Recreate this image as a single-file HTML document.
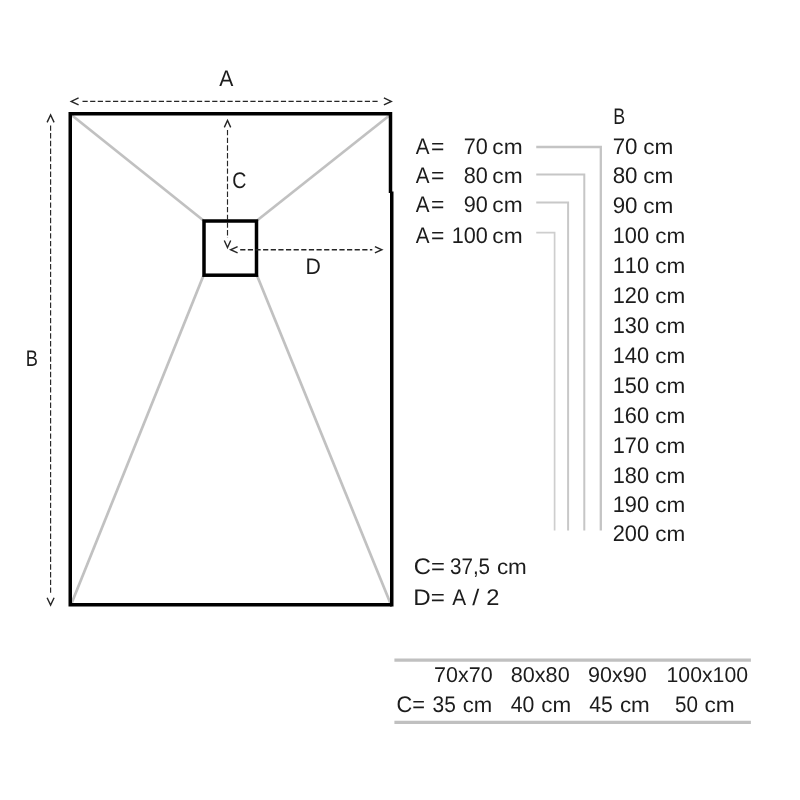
<!DOCTYPE html>
<html lang="es">
<head>
<meta charset="utf-8">
<title>Plato de ducha - medidas</title>
<style>
html,body{margin:0;padding:0;background:#fff;}
body{width:800px;height:800px;overflow:hidden;}
svg{display:block;will-change:transform;}
svg text{font-family:"Liberation Sans",sans-serif;white-space:pre;font-kerning:none;fill:#1c1c1c;text-rendering:geometricPrecision;}
</style>
</head>
<body>
<svg width="800" height="800" viewBox="0 0 800 800">
<rect width="800" height="800" fill="#ffffff"/>
<g id="art">
<g id="diagonals">
<line x1="71.5" y1="115" x2="203.5" y2="220.5" stroke="#c1c1c1" stroke-width="2.7"/>
<line x1="390" y1="115" x2="257" y2="220.5" stroke="#c1c1c1" stroke-width="2.7"/>
<line x1="71.5" y1="603.5" x2="203.5" y2="275.5" stroke="#c1c1c1" stroke-width="2.7"/>
<line x1="390.5" y1="603.5" x2="257" y2="275.5" stroke="#c1c1c1" stroke-width="2.7"/>
</g>
<g id="outline">
<path d="M390.5,113.75 H70.25 V604.75 H391.75" fill="none" stroke="#000" stroke-width="3.5" stroke-linejoin="miter" stroke-linecap="butt"/>
<path d="M390.5,112 V193" fill="none" stroke="#000" stroke-width="3.5"/>
<path d="M391.75,191.5 V606.5" fill="none" stroke="#000" stroke-width="3.5"/>
<rect x="204" y="221" width="52.5" height="54.2" fill="none" stroke="#000" stroke-width="3.5"/>
</g>
<g id="arrows">
<line x1="82.5" y1="101.4" x2="380.0" y2="101.4" stroke="#262626" stroke-width="1.3" stroke-dasharray="5.2 2.43"/>
<path d="M78.6,97.9 L71.2,101.4 L78.6,104.9" fill="none" stroke="#262626" stroke-width="1.4" stroke-linejoin="miter"/>
<path d="M383.9,97.9 L391.3,101.4 L383.9,104.9" fill="none" stroke="#262626" stroke-width="1.4" stroke-linejoin="miter"/>
<line x1="50.6" y1="125.4" x2="50.6" y2="594.7" stroke="#262626" stroke-width="1.15" stroke-dasharray="5.4 2.3"/>
<path d="M47.1,122.4 L50.6,115.0 L54.1,122.4" fill="none" stroke="#262626" stroke-width="1.4" stroke-linejoin="miter"/>
<path d="M47.1,597.7 L50.6,605.1 L54.1,597.7" fill="none" stroke="#262626" stroke-width="1.4" stroke-linejoin="miter"/>
<line x1="227.5" y1="129.95" x2="227.5" y2="237.9" stroke="#262626" stroke-width="1.15" stroke-dasharray="5.4 2.3"/>
<path d="M224.3,127.35 L227.5,120.35 L230.7,127.35" fill="none" stroke="#262626" stroke-width="1.4" stroke-linejoin="miter"/>
<path d="M224.3,240.5 L227.5,247.5 L230.7,240.5" fill="none" stroke="#262626" stroke-width="1.4" stroke-linejoin="miter"/>
<line x1="240.2" y1="249.75" x2="372.3" y2="249.75" stroke="#262626" stroke-width="1.3" stroke-dasharray="5.2 2.43"/>
<path d="M237.6,246.55 L230.6,249.75 L237.6,252.95" fill="none" stroke="#262626" stroke-width="1.4" stroke-linejoin="miter"/>
<path d="M374.9,246.55 L381.9,249.75 L374.9,252.95" fill="none" stroke="#262626" stroke-width="1.4" stroke-linejoin="miter"/>
</g>
<g id="connectors">
<path d="M536.25,147.0 H600.8 V530.6" fill="none" stroke="#c4c4c4" stroke-width="2.3" stroke-linejoin="miter"/>
<path d="M536.25,174.6 H584.3 V530.6" fill="none" stroke="#c6c6c6" stroke-width="2.0" stroke-linejoin="miter"/>
<path d="M536.25,202.4 H568.1 V530.6" fill="none" stroke="#c8c8c8" stroke-width="2.0" stroke-linejoin="miter"/>
<path d="M536.25,232.6 H554.6 V530.6" fill="none" stroke="#cecece" stroke-width="1.7" stroke-linejoin="miter"/>
</g>
<g id="table-lines">
<line x1="394.4" y1="660.1" x2="750.9" y2="660.1" stroke="#c0c0c0" stroke-width="3.2"/>
<line x1="394.4" y1="722.4" x2="750.9" y2="722.4" stroke="#c0c0c0" stroke-width="3.2"/>
</g>
<g id="labels">
<text y="85.70" font-size="22.6"><tspan x="219.20" font-size="22.6" textLength="14.09" lengthAdjust="spacingAndGlyphs">A</tspan></text>
<text y="365.60" font-size="22.6"><tspan x="25.66" font-size="22.6" textLength="12.16" lengthAdjust="spacingAndGlyphs">B</tspan></text>
<text y="187.60" font-size="22.6"><tspan x="232.35" font-size="22.6" textLength="14.15" lengthAdjust="spacingAndGlyphs">C</tspan></text>
<text y="274.20" font-size="22.6"><tspan x="305.41" font-size="22.6" textLength="15.35" lengthAdjust="spacingAndGlyphs">D</tspan></text>
<text y="153.85" font-size="22.6"><tspan x="415.80" font-size="22.6" textLength="13.74" lengthAdjust="spacingAndGlyphs">A</tspan><tspan x="431.04" font-size="22.6" textLength="13.35" lengthAdjust="spacingAndGlyphs">=</tspan> <tspan x="463.75" font-size="22.6" textLength="24.05" lengthAdjust="spacingAndGlyphs">70</tspan> <tspan x="492.39" font-size="21.4" textLength="30.29" lengthAdjust="spacingAndGlyphs">cm</tspan></text>
<text y="183.39" font-size="22.6"><tspan x="415.80" font-size="22.6" textLength="13.74" lengthAdjust="spacingAndGlyphs">A</tspan><tspan x="431.04" font-size="22.6" textLength="13.35" lengthAdjust="spacingAndGlyphs">=</tspan> <tspan x="463.75" font-size="22.6" textLength="24.05" lengthAdjust="spacingAndGlyphs">80</tspan> <tspan x="492.39" font-size="21.4" textLength="30.29" lengthAdjust="spacingAndGlyphs">cm</tspan></text>
<text y="212.43" font-size="22.6"><tspan x="415.80" font-size="22.6" textLength="13.74" lengthAdjust="spacingAndGlyphs">A</tspan><tspan x="431.04" font-size="22.6" textLength="13.35" lengthAdjust="spacingAndGlyphs">=</tspan> <tspan x="463.75" font-size="22.6" textLength="24.05" lengthAdjust="spacingAndGlyphs">90</tspan> <tspan x="492.39" font-size="21.4" textLength="30.29" lengthAdjust="spacingAndGlyphs">cm</tspan></text>
<text y="243.37" font-size="22.6"><tspan x="415.80" font-size="22.6" textLength="13.74" lengthAdjust="spacingAndGlyphs">A</tspan><tspan x="431.04" font-size="22.6" textLength="13.35" lengthAdjust="spacingAndGlyphs">=</tspan> <tspan x="451.72" font-size="22.6" textLength="36.08" lengthAdjust="spacingAndGlyphs">100</tspan> <tspan x="492.39" font-size="21.4" textLength="30.29" lengthAdjust="spacingAndGlyphs">cm</tspan></text>
<text y="123.50" font-size="22.6"><tspan x="613.19" font-size="22.6" textLength="11.91" lengthAdjust="spacingAndGlyphs">B</tspan></text>
<text y="153.85" font-size="22.6"><tspan x="612.71" font-size="22.6" textLength="24.81" lengthAdjust="spacingAndGlyphs">70</tspan> <tspan x="643.30" font-size="21.4" textLength="30.13" lengthAdjust="spacingAndGlyphs">cm</tspan></text>
<text y="182.69" font-size="22.6"><tspan x="612.71" font-size="22.6" textLength="24.81" lengthAdjust="spacingAndGlyphs">80</tspan> <tspan x="643.30" font-size="21.4" textLength="30.13" lengthAdjust="spacingAndGlyphs">cm</tspan></text>
<text y="212.83" font-size="22.6"><tspan x="612.71" font-size="22.6" textLength="24.81" lengthAdjust="spacingAndGlyphs">90</tspan> <tspan x="643.30" font-size="21.4" textLength="30.13" lengthAdjust="spacingAndGlyphs">cm</tspan></text>
<text y="243.37" font-size="22.6"><tspan x="612.77" font-size="22.6" textLength="36.33" lengthAdjust="spacingAndGlyphs">100</tspan> <tspan x="655.30" font-size="21.4" textLength="30.02" lengthAdjust="spacingAndGlyphs">cm</tspan></text>
<text y="273.21" font-size="22.6"><tspan x="612.77" font-size="22.6" textLength="36.33" lengthAdjust="spacingAndGlyphs">110</tspan> <tspan x="655.30" font-size="21.4" textLength="30.02" lengthAdjust="spacingAndGlyphs">cm</tspan></text>
<text y="303.05" font-size="22.6"><tspan x="612.77" font-size="22.6" textLength="36.33" lengthAdjust="spacingAndGlyphs">120</tspan> <tspan x="655.30" font-size="21.4" textLength="30.02" lengthAdjust="spacingAndGlyphs">cm</tspan></text>
<text y="332.89" font-size="22.6"><tspan x="612.77" font-size="22.6" textLength="36.33" lengthAdjust="spacingAndGlyphs">130</tspan> <tspan x="655.30" font-size="21.4" textLength="30.02" lengthAdjust="spacingAndGlyphs">cm</tspan></text>
<text y="362.73" font-size="22.6"><tspan x="612.77" font-size="22.6" textLength="36.33" lengthAdjust="spacingAndGlyphs">140</tspan> <tspan x="655.30" font-size="21.4" textLength="30.02" lengthAdjust="spacingAndGlyphs">cm</tspan></text>
<text y="392.57" font-size="22.6"><tspan x="612.77" font-size="22.6" textLength="36.33" lengthAdjust="spacingAndGlyphs">150</tspan> <tspan x="655.30" font-size="21.4" textLength="30.02" lengthAdjust="spacingAndGlyphs">cm</tspan></text>
<text y="422.81" font-size="22.6"><tspan x="612.77" font-size="22.6" textLength="36.33" lengthAdjust="spacingAndGlyphs">160</tspan> <tspan x="655.30" font-size="21.4" textLength="30.02" lengthAdjust="spacingAndGlyphs">cm</tspan></text>
<text y="453.05" font-size="22.6"><tspan x="612.77" font-size="22.6" textLength="36.33" lengthAdjust="spacingAndGlyphs">170</tspan> <tspan x="655.30" font-size="21.4" textLength="30.02" lengthAdjust="spacingAndGlyphs">cm</tspan></text>
<text y="482.79" font-size="22.6"><tspan x="612.77" font-size="22.6" textLength="36.33" lengthAdjust="spacingAndGlyphs">180</tspan> <tspan x="655.30" font-size="21.4" textLength="30.02" lengthAdjust="spacingAndGlyphs">cm</tspan></text>
<text y="512.43" font-size="22.6"><tspan x="612.77" font-size="22.6" textLength="36.33" lengthAdjust="spacingAndGlyphs">190</tspan> <tspan x="655.30" font-size="21.4" textLength="30.02" lengthAdjust="spacingAndGlyphs">cm</tspan></text>
<text y="541.47" font-size="22.6"><tspan x="612.77" font-size="22.6" textLength="36.33" lengthAdjust="spacingAndGlyphs">200</tspan> <tspan x="655.30" font-size="21.4" textLength="30.02" lengthAdjust="spacingAndGlyphs">cm</tspan></text>
<text y="574.30" font-size="22.6"><tspan x="413.79" font-size="22.6" textLength="31.14" lengthAdjust="spacingAndGlyphs">C=</tspan> <tspan x="449.95" font-size="22.6" textLength="40.15" lengthAdjust="spacingAndGlyphs">37,5</tspan> <tspan x="496.91" font-size="21.4" textLength="29.91" lengthAdjust="spacingAndGlyphs">cm</tspan></text>
<text y="604.50" font-size="22.6"><tspan x="413.37" font-size="22.6" textLength="31.58" lengthAdjust="spacingAndGlyphs">D=</tspan> <tspan x="452.30" font-size="22.6" textLength="13.89" lengthAdjust="spacingAndGlyphs">A</tspan> <tspan x="472.25" font-size="22.6" textLength="7.03" lengthAdjust="spacingAndGlyphs">/</tspan> <tspan x="486.17" font-size="22.6" textLength="13.18" lengthAdjust="spacingAndGlyphs">2</tspan></text>
<text y="682.30" font-size="22.6"><tspan x="434.05" font-size="21.4" textLength="58.54" lengthAdjust="spacingAndGlyphs">70x70</tspan></text>
<text y="682.30" font-size="22.6"><tspan x="510.71" font-size="21.4" textLength="58.98" lengthAdjust="spacingAndGlyphs">80x80</tspan></text>
<text y="682.30" font-size="22.6"><tspan x="588.04" font-size="21.4" textLength="58.80" lengthAdjust="spacingAndGlyphs">90x90</tspan></text>
<text y="682.30" font-size="22.6"><tspan x="666.54" font-size="21.4" textLength="81.54" lengthAdjust="spacingAndGlyphs">100x100</tspan></text>
<text y="712.30" font-size="22.6"><tspan x="396.44" font-size="22.6" textLength="28.49" lengthAdjust="spacingAndGlyphs">C=</tspan> <tspan x="432.54" font-size="22.6" textLength="23.28" lengthAdjust="spacingAndGlyphs">35</tspan> <tspan x="462.77" font-size="21.4" textLength="29.53" lengthAdjust="spacingAndGlyphs">cm</tspan></text>
<text y="712.30" font-size="22.6"><tspan x="510.76" font-size="22.6" textLength="23.63" lengthAdjust="spacingAndGlyphs">40</tspan> <tspan x="541.21" font-size="21.4" textLength="29.91" lengthAdjust="spacingAndGlyphs">cm</tspan></text>
<text y="712.30" font-size="22.6"><tspan x="589.16" font-size="22.6" textLength="23.57" lengthAdjust="spacingAndGlyphs">45</tspan> <tspan x="619.91" font-size="21.4" textLength="29.91" lengthAdjust="spacingAndGlyphs">cm</tspan></text>
<text y="712.30" font-size="22.6"><tspan x="675.03" font-size="22.6" textLength="22.93" lengthAdjust="spacingAndGlyphs">50</tspan> <tspan x="704.40" font-size="21.4" textLength="30.24" lengthAdjust="spacingAndGlyphs">cm</tspan></text>
</g>
</g>
</svg>
</body>
</html>
